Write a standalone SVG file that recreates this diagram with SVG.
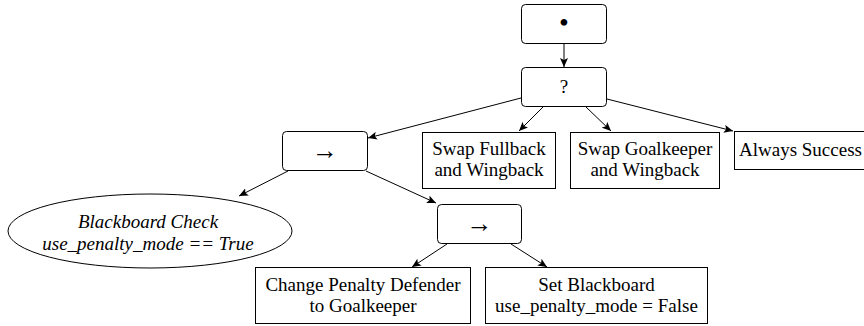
<svg xmlns="http://www.w3.org/2000/svg" width="864" height="326" viewBox="0 0 864 326">
<defs>
<marker id="ah" markerUnits="userSpaceOnUse" markerWidth="10" markerHeight="8" refX="9" refY="4" orient="auto">
<path d="M0,0 L9,4 L0,8 L2,4 Z" fill="#000"/>
</marker>
<style>
.n{fill:#fff;stroke:#000;stroke-width:1}
.t{font-size:19px;fill:#000;text-anchor:middle}
.i{font-style:italic}
.a{font-size:26px}
.b{font-size:28px}
.e{fill:none;stroke:#000;stroke-width:1;marker-end:url(#ah)}
</style>
</defs>
<rect width="864" height="326" fill="#fff"/>
<g id="connectors">
<line class="e" x1="564" y1="43" x2="564" y2="67"/>
<line class="e" x1="521" y1="98" x2="368" y2="138"/>
<line class="e" x1="543" y1="107" x2="519" y2="131"/>
<line class="e" x1="586" y1="107" x2="611" y2="131"/>
<line class="e" x1="607" y1="99" x2="733" y2="131"/>
<line class="e" x1="288" y1="171" x2="239" y2="196"/>
<line class="e" x1="366" y1="171" x2="436" y2="203"/>
<line class="e" x1="447" y1="244" x2="412" y2="267"/>
<line class="e" x1="511" y1="244" x2="547" y2="267"/>
</g>
<g font-family="Liberation Serif, DejaVu Serif, serif">
<g id="root">
<rect class="n" x="521.5" y="4.5" width="85" height="39" rx="4"/>
<text class="t b" x="564" y="32">•</text>
</g>
<g id="selector">
<rect class="n" x="521.5" y="67.5" width="85" height="39" rx="4"/>
<text class="t" x="564" y="93">?</text>
</g>
<g id="sequence1">
<rect class="n" x="282.5" y="131.5" width="85" height="39" rx="4"/>
<text class="t a" x="325" y="159">→</text>
</g>
<g id="swap_fullback">
<rect class="n" x="422.5" y="132.5" width="133" height="56"/>
<text class="t" x="489" y="155">Swap Fullback</text>
<text class="t" x="489" y="176">and Wingback</text>
</g>
<g id="swap_goalkeeper">
<rect class="n" x="570.5" y="132.5" width="149" height="56"/>
<text class="t" x="645" y="155">Swap Goalkeeper</text>
<text class="t" x="645" y="176">and Wingback</text>
</g>
<g id="always_success">
<rect class="n" x="734.5" y="131.5" width="140" height="38"/>
<text class="t" x="739" y="156" style="text-anchor:start">Always Success</text>
</g>
<g id="blackboard_check">
<ellipse class="n" cx="150" cy="231" rx="142" ry="37"/>
<text class="t i" x="148" y="228">Blackboard Check</text>
<text class="t i" x="148" y="250">use_penalty_mode == True</text>
</g>
<g id="sequence2">
<rect class="n" x="437.5" y="204.5" width="84" height="39" rx="4"/>
<text class="t a" x="479.5" y="232">→</text>
</g>
<g id="change_penalty">
<rect class="n" x="255.5" y="267.5" width="215" height="56"/>
<text class="t" x="363" y="291">Change Penalty Defender</text>
<text class="t" x="363" y="312">to Goalkeeper</text>
</g>
<g id="set_blackboard">
<rect class="n" x="485.5" y="267.5" width="222" height="56"/>
<text class="t" x="596.5" y="291">Set Blackboard</text>
<text class="t" x="596.5" y="312">use_penalty_mode = False</text>
</g>
</g>
</svg>
